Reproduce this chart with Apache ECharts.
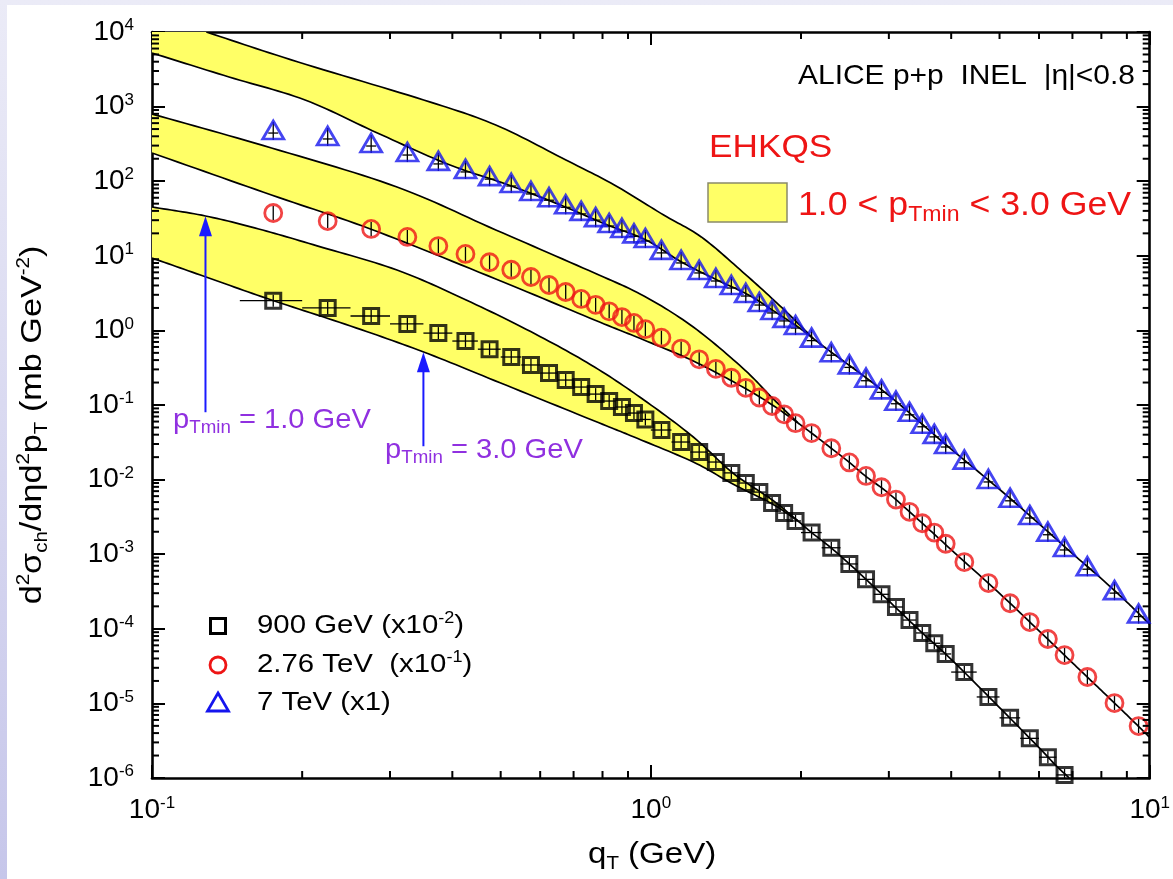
<!DOCTYPE html>
<html>
<head>
<meta charset="utf-8">
<title>EHKQS vs ALICE p+p</title>
<script src="https://cdn.jsdelivr.net/npm/echarts@6.0.0/dist/echarts.min.js"></script>
<style>
html,body{margin:0;padding:0;width:1173px;height:879px;overflow:hidden;background:#fff;}
#chart{width:1173px;height:879px;}
</style>
</head>
<body>
<div id="chart"></div>
<script>
// ---------------- data ----------------
const xTickExponents = [-1, 0, 1];
const yTickExponents = [-6, -5, -4, -3, -2, -1, 0, 1, 2, 3, 4];
const xMinorTicks = [0.2,0.3,0.4,0.5,0.6,0.7,0.8,0.9,2,3,4,5,6,7,8,9];
const yMinorMantissas = [2,3,4,5,6,7,8,9];

// 900 GeV (x10^-2)
const qT900 = [0.175,0.225,0.275,0.325,0.375,0.425,0.475,0.525,0.575,0.625,0.675,0.725,0.775,0.825,0.875,0.925,0.975,
  1.05,1.15,1.25,1.35,1.45,1.55,1.65,1.75,1.85,1.95,2.1,2.3,2.5,2.7,2.9,3.1,3.3,3.5,3.7,3.9,4.25,4.75,5.25,5.75,6.25,6.75];
const halfBin900 = [0.025,0.025,0.025,0.025,0.025,0.025,0.025,0.025,0.025,0.025,0.025,0.025,0.025,0.025,0.025,0.025,0.025,
  0.05,0.05,0.05,0.05,0.05,0.05,0.05,0.05,0.05,0.05,0.1,0.1,0.1,0.1,0.1,0.1,0.1,0.1,0.1,0.1,0.25,0.25,0.25,0.25,0.25,0.25];
const sigma900 = [2.5,2.0,1.56,1.22,0.92,0.72,0.56,0.44,0.344,0.268,0.216,0.174,0.140,0.113,0.094,0.078,0.064,
  0.0462,0.0319,0.0234,0.0172,0.0123,0.0090,0.0068,0.00486,0.00356,0.00279,0.00195,0.00122,7.4e-4,4.6e-4,2.9e-4,
  1.96e-4,1.31e-4,8.8e-5,6.4e-5,4.6e-5,2.63e-5,1.22e-5,6.4e-6,3.4e-6,1.9e-6,1.1e-6];

// 2.76 TeV (x10^-1)
const qT276 = [0.175,0.225,0.275,0.325,0.375,0.425,0.475,0.525,0.575,0.625,0.675,0.725,0.775,0.825,0.875,0.925,0.975,
  1.05,1.15,1.25,1.35,1.45,1.55,1.65,1.75,1.85,1.95,2.1,2.3,2.5,2.7,2.9,3.1,3.3,3.5,3.7,3.9,4.25,4.75,5.25,5.75,6.25,6.75,7.5,8.5,9.5];
const sigma276 = [37.5,29.2,22.9,17.9,13.5,10.6,8.2,6.5,5.2,4.06,3.27,2.64,2.2,1.8,1.51,1.26,1.04,
  0.80,0.57,0.41,0.305,0.232,0.170,0.126,0.097,0.075,0.057,0.042,0.0263,0.0170,0.0112,0.0079,0.0054,0.0037,0.0026,
  0.00195,0.00138,7.85e-4,4.1e-4,2.2e-4,1.23e-4,7.3e-5,4.45e-5,2.26e-5,1.01e-5,4.97e-6];

// 7 TeV (x1)
const qT7 = [0.175,0.225,0.275,0.325,0.375,0.425,0.475,0.525,0.575,0.625,0.675,0.725,0.775,0.825,0.875,0.925,0.975,
  1.05,1.15,1.25,1.35,1.45,1.55,1.65,1.75,1.85,1.95,2.1,2.3,2.5,2.7,2.9,3.1,3.3,3.5,3.7,3.9,4.25,4.75,5.25,5.75,6.25,6.75,7.5,8.5,9.5];
const sigma7 = [485,404,325,246,187,146,117,94.6,74,61,49,40,33,27.5,23.6,20,17.3,
  12.0,8.8,6.46,5.04,4.06,3.17,2.4,1.88,1.47,1.18,0.80,0.51,0.35,0.232,0.162,0.114,0.081,0.056,0.041,0.030,
  0.0185,0.0102,5.7e-3,3.35e-3,2.0e-3,1.25e-3,6.9e-4,3.3e-4,1.6e-4];

// EHKQS bands: upper edge = pTmin 1.0 GeV, lower edge = pTmin 3.0 GeV, then the common curve
const band900Upper = [[0.1,45.1],[0.128,34.2],[0.1636,22.9],[0.2151,13.5],[0.3098,6.45],[0.4264,2.556],[0.5867,0.895],
  [0.771,0.323],[0.9686,0.1167],[1.2164,0.03724],[1.4601,0.01226],[1.7518,0.00533],[1.9728,0.002786]];
const band900Lower = [[0.1,9.34],[0.13,5.04],[0.1736,2.556],[0.25,1.146],[0.3504,0.5134],[0.5,0.197],[0.771,0.061],
  [0.9255,0.0372],[1.2164,0.0172],[1.4601,0.00873],[1.7518,0.00471],[1.9728,0.002786]];
const curve900Tail = [[1.9728,0.002786],[2.1,0.00195],[2.3,0.00121],[2.5,7.4e-4],[2.7,4.6e-4],[3.0,2.36e-4],[3.5,8.8e-5],
  [4.0,3.9e-5],[5.0,8.8e-6],[6.0,2.55e-6],[6.5,1.45e-6],[6.9,1.0e-6]];

const band276Upper = [[0.1,796],[0.1736,279],[0.3098,83.6],[0.4888,22.2],[0.771,5.88],[0.9686,2.89],[1.2164,1.11],
  [1.5281,0.313],[1.7518,0.1241],[1.9728,0.0574]];
const band276Lower = [[0.1,239],[0.1736,65.3],[0.274,22.9],[0.4888,4.89],[0.771,1.379],[0.9686,0.7436],[1.2164,0.389],
  [1.5281,0.1743],[1.7518,0.1],[1.9728,0.0574]];
const curve276Tail = [[1.9728,0.0574],[2.1,0.042],[2.3,0.0263],[2.5,0.0170],[2.7,0.0110],[3.0,0.0065],[3.5,0.0026],
  [4.0,0.00115],[5.0,2.98e-4],[6.0,9.4e-5],[7.0,3.5e-5],[8.0,1.49e-5],[9.0,7.0e-6],[10,3.5e-6]];

const band7Upper = [[0.1285,1e4],[0.1963,3962],[0.3504,1226],[0.4888,567],[0.6757,192.4],[0.8448,88.9],[1.0611,35.2],
  [1.2619,17.9],[1.5281,6.06],[1.8337,2.0],[2.1217,0.767]];
const band7Lower = [[0.1,5230],[0.1427,2494],[0.2027,1226],[0.283,443],[0.391,170],[0.5186,88.9],[0.6663,46.5],
  [0.8182,25.9],[0.9775,16.3],[1.1519,8.26],[1.3574,4.74],[1.5707,2.98],[1.7762,1.764],[1.9728,1.11],[2.1217,0.767]];
const curve7Tail = [[2.1217,0.767],[2.3,0.51],[2.7,0.232],[3.1,0.112],[3.5,0.0552],[4.0,0.0256],[5.0,0.0074],
  [6.0,0.00256],[7.0,1.02e-3],[8.0,4.7e-4],[9.0,2.28e-4],[10,1.15e-4]];
const band7Corner = [0.1, 1e4];

// annotation arrows (x, from, to)
const arrowX = [0.128, 0.35];
const arrowFrom = [0.08, 0.028];
const arrowTo = [34, 0.51];

// ---------------- style ----------------
const FONT = '"Liberation Sans", Arial, Helvetica, sans-serif';
const YELLOW = '#ffff66';
const RED = '#ee1515';
const BLUE = '#1515ee';
const PURPLE = '#9030e0';
const ARROW_BLUE = '#1a1aff';
const MAJOR = 13, MINOR = 7;

function spline(pts, steps) {
  if (pts.length < 3) return pts.slice();
  const out = [];
  const n = pts.length;
  for (let i = 0; i < n - 1; i++) {
    const p1 = pts[i], p2 = pts[i + 1];
    const p0 = i > 0 ? pts[i - 1] : [2 * p1[0] - p2[0], 2 * p1[1] - p2[1]];
    const p3 = i < n - 2 ? pts[i + 2] : [2 * p2[0] - p1[0], 2 * p2[1] - p1[1]];
    for (let s = 0; s < steps; s++) {
      const t = s / steps, t2 = t * t, t3 = t2 * t;
      const f = k => 0.5 * ((2 * p1[k]) + (-p0[k] + p2[k]) * t +
        (2 * p0[k] - 5 * p1[k] + 4 * p2[k] - p3[k]) * t2 +
        (-p0[k] + 3 * p1[k] - 3 * p2[k] + p3[k]) * t3);
      out.push([f(0), f(1)]);
    }
  }
  out.push(pts[n - 1]);
  return out;
}

function bandSeries(name, upper, lower, tail, corner) {
  const STEPS = 14;
  return {
    type: 'custom', name: name, coordinateSystem: 'cartesian2d', clip: true, silent: true, z: 2,
    data: [[1, 1]],
    renderItem: function (params, api) {
      const U = spline(upper.map(p => api.coord(p)), STEPS);
      const Lr = spline(lower.map(p => api.coord(p)), STEPS);
      const Tr = spline(tail.map(p => api.coord(p)), STEPS);
      let poly = U.concat(Lr.slice().reverse());
      if (corner) poly = [api.coord(corner)].concat(poly);
      const lineStyle = { stroke: '#000', lineWidth: 1.7, fill: null };
      return {
        type: 'group', children: [
          { type: 'polygon', shape: { points: poly }, style: { fill: YELLOW, stroke: null } },
          { type: 'polyline', shape: { points: U }, style: lineStyle },
          { type: 'polyline', shape: { points: Lr }, style: lineStyle },
          { type: 'polyline', shape: { points: Tr }, style: lineStyle }
        ]
      };
    }
  };
}

function errorSeries(qT, vals, halfBins, up, down, cross) {
  return {
    type: 'custom', coordinateSystem: 'cartesian2d', clip: true, silent: true, z: 4,
    data: qT.map((x, i) => [x, vals[i], halfBins ? halfBins[i] : 0]),
    renderItem: function (params, api) {
      const x = api.value(0), y = api.value(1), hb = api.value(2);
      const c = api.coord([x, y]);
      const st = { stroke: '#000', lineWidth: 1.3 };
      const ch = [{ type: 'line', shape: { x1: c[0], y1: c[1] - up, x2: c[0], y2: c[1] + down }, style: st }];
      if (hb > 0) {
        const a = api.coord([x - hb, y]), b = api.coord([x + hb, y]);
        ch.push({ type: 'line', shape: { x1: a[0], y1: c[1], x2: b[0], y2: c[1] }, style: st });
      } else if (cross) {
        ch.push({ type: 'line', shape: { x1: c[0] - cross, y1: c[1] + 3, x2: c[0] + cross, y2: c[1] + 3 }, style: st });
      }
      return { type: 'group', children: ch };
    }
  };
}

const minorYValues = [];
yTickExponents.slice(0, -1).forEach(e => yMinorMantissas.forEach(m => minorYValues.push(m * Math.pow(10, e))));

function supLabel(v) {
  const e = Math.round(Math.log10(v));
  return '{b|10}{s|' + e + '}';
}
const labelRich = {
  b: { fontSize: 28, fontFamily: FONT, color: '#000', lineHeight: 30, verticalAlign: 'middle' },
  s: { fontSize: 17, fontFamily: FONT, color: '#000', lineHeight: 14, verticalAlign: 'top' }
};

const axisCommon = {
  type: 'log', logBase: 10, interval: 1,
  axisLine: { show: true, lineStyle: { color: '#000', width: 2.6 } },
  axisTick: { show: true, inside: true, length: MAJOR, lineStyle: { color: '#000', width: 2 } },
  splitLine: { show: false },
  minorTick: { show: false },
  minorSplitLine: { show: false }
};

const chart = echarts.init(document.getElementById('chart'), null, { renderer: 'canvas' });

const option = {
  animation: false,
  backgroundColor: 'transparent',
  grid: { left: 152, right: 11, top: 32, bottom: 101, containLabel: false },
  xAxis: [
    Object.assign({}, axisCommon, {
      min: 0.1, max: 10, position: 'bottom',
      axisLabel: {
        show: true, margin: 17, showMinLabel: true, showMaxLabel: true,
        formatter: v => xTickExponents.indexOf(Math.round(Math.log10(v))) >= 0 ? supLabel(v) : '',
        rich: labelRich
      }
    }),
    Object.assign({}, axisCommon, {
      min: 0.1, max: 10, position: 'top', axisLabel: { show: false }
    })
  ],
  yAxis: [
    Object.assign({}, axisCommon, {
      min: 1e-6, max: 1e4, position: 'left',
      axisLabel: {
        show: true, margin: 18, showMinLabel: true, showMaxLabel: true,
        formatter: v => yTickExponents.indexOf(Math.round(Math.log10(v))) >= 0 ? supLabel(v) : '',
        rich: labelRich
      }
    }),
    Object.assign({}, axisCommon, {
      min: 1e-6, max: 1e4, position: 'right', axisLabel: { show: false }
    })
  ],
  series: [
    bandSeries('EHKQS 7 TeV', band7Upper, band7Lower, curve7Tail, band7Corner),
    bandSeries('EHKQS 2.76 TeV', band276Upper, band276Lower, curve276Tail, null),
    bandSeries('EHKQS 900 GeV', band900Upper, band900Lower, curve900Tail, null),
    errorSeries(qT900, sigma900, halfBin900, 6, 6, 0),
    errorSeries(qT276, sigma276, null, 7, 7, 0),
    errorSeries(qT7, sigma7, null, 8, 10, 5),
    {
      type: 'scatter', name: '900 GeV (x10^-2)', z: 5,
      data: qT900.map((x, i) => [x, sigma900[i]]),
      symbol: 'rect', symbolSize: 15,
      itemStyle: { color: 'rgba(0,0,0,0)', borderColor: '#000', borderWidth: 3 }
    },
    {
      type: 'scatter', name: '2.76 TeV (x10^-1)', z: 5,
      data: qT276.map((x, i) => [x, sigma276[i]]),
      symbol: 'circle', symbolSize: 17,
      itemStyle: { color: 'rgba(0,0,0,0)', borderColor: RED, borderWidth: 2.8 }
    },
    {
      type: 'scatter', name: '7 TeV (x1)', z: 5,
      data: qT7.map((x, i) => [x, sigma7[i]]),
      symbol: 'triangle', symbolSize: [21, 18],
      itemStyle: { color: 'rgba(0,0,0,0)', borderColor: BLUE, borderWidth: 2.8 }
    },
    {
      // annotation arrows
      type: 'custom', coordinateSystem: 'cartesian2d', silent: true, z: 6, clip: true,
      data: arrowX.map((x, i) => [x, arrowFrom[i], arrowTo[i]]),
      renderItem: function (params, api) {
        const a = api.coord([api.value(0), api.value(1)]);
        const b = api.coord([api.value(0), api.value(2)]);
        const headL = 20, headW = 6.5;
        return {
          type: 'group', children: [
            { type: 'line', shape: { x1: a[0], y1: a[1], x2: b[0], y2: b[1] + headL - 2 }, style: { stroke: ARROW_BLUE, lineWidth: 2 } },
            { type: 'polygon', shape: { points: [[b[0], b[1]], [b[0] - headW, b[1] + headL], [b[0] + headW, b[1] + headL]] }, style: { fill: ARROW_BLUE } }
          ]
        };
      }
    },
    {
      // minor ticks on bottom/top axes
      type: 'custom', coordinateSystem: 'cartesian2d', silent: true, z: 7, clip: false,
      data: xMinorTicks.map(v => [v, 1]),
      renderItem: function (params, api) {
        const cs = params.coordSys;
        const px = api.coord([api.value(0), 1])[0];
        const st = { stroke: '#000', lineWidth: 2 };
        return {
          type: 'group', children: [
            { type: 'line', shape: { x1: px, y1: cs.y + cs.height, x2: px, y2: cs.y + cs.height - MINOR }, style: st },
            { type: 'line', shape: { x1: px, y1: cs.y, x2: px, y2: cs.y + MINOR }, style: st }
          ]
        };
      }
    },
    {
      // minor ticks on left/right axes
      type: 'custom', coordinateSystem: 'cartesian2d', silent: true, z: 7, clip: false,
      data: minorYValues.map(v => [1, v]),
      renderItem: function (params, api) {
        const cs = params.coordSys;
        const py = api.coord([1, api.value(1)])[1];
        const st = { stroke: '#000', lineWidth: 2 };
        return {
          type: 'group', children: [
            { type: 'line', shape: { x1: cs.x, y1: py, x2: cs.x + MINOR, y2: py }, style: st },
            { type: 'line', shape: { x1: cs.x + cs.width, y1: py, x2: cs.x + cs.width - MINOR, y2: py }, style: st }
          ]
        };
      }
    }
  ],
  graphic: [
    { type: 'rect', z: -100, silent: true, shape: { x: 0, y: 0, width: 1173, height: 879 },
      style: { fill: new echarts.graphic.LinearGradient(0, 0, 0, 1, [{ offset: 0, color: '#ebebf7' }, { offset: 1, color: '#c6c6ea' }]) } },
    { type: 'rect', z: -99, silent: true, shape: { x: 7, y: 5, width: 1166, height: 874 }, style: { fill: '#ffffff' } },

    { type: 'text', z: 50, x: 798, y: 76, scaleX: 1.07,
      style: { text: 'ALICE p+p  INEL  |\u03b7|<0.8', fontSize: 28, fontFamily: FONT, fill: '#000', align: 'left', verticalAlign: 'middle' } },
    { type: 'text', z: 50, x: 709, y: 148, scaleX: 1.1,
      style: { text: 'EHKQS', fontSize: 32, fontFamily: FONT, fill: RED, align: 'left', verticalAlign: 'middle' } },
    { type: 'rect', z: 50, shape: { x: 708, y: 183, width: 79, height: 39 }, style: { fill: YELLOW, stroke: '#8a8a6a', lineWidth: 1.5 } },
    { type: 'text', z: 50, x: 798, y: 206, scaleX: 1.05,
      style: { text: '1.0 < p{sub|Tmin} < 3.0 GeV', fontSize: 34, fontFamily: FONT, fill: RED, align: 'left', verticalAlign: 'middle', lineHeight: 40,
        rich: { sub: { fontSize: 22, fontFamily: FONT, fill: RED, verticalAlign: 'bottom', lineHeight: 18 } } } },

    { type: 'text', z: 50, x: 173, y: 420, scaleX: 1.04,
      style: { text: 'p{sub|Tmin} = 1.0 GeV', fontSize: 28, fontFamily: FONT, fill: PURPLE, align: 'left', verticalAlign: 'middle', lineHeight: 34,
        rich: { sub: { fontSize: 18, fontFamily: FONT, fill: PURPLE, verticalAlign: 'bottom', lineHeight: 14 } } } },
    { type: 'text', z: 50, x: 385, y: 450, scaleX: 1.04,
      style: { text: 'p{sub|Tmin} = 3.0 GeV', fontSize: 28, fontFamily: FONT, fill: PURPLE, align: 'left', verticalAlign: 'middle', lineHeight: 34,
        rich: { sub: { fontSize: 18, fontFamily: FONT, fill: PURPLE, verticalAlign: 'bottom', lineHeight: 14 } } } },

    // legend
    { type: 'rect', z: 50, shape: { x: 210.5, y: 618.5, width: 15, height: 15 }, style: { fill: null, stroke: '#000', lineWidth: 3 } },
    { type: 'circle', z: 50, shape: { cx: 218, cy: 665, r: 8 }, style: { fill: null, stroke: RED, lineWidth: 2.8 } },
    { type: 'polygon', z: 50, shape: { points: [[218, 693], [228.5, 711], [207.5, 711]] }, style: { fill: null, stroke: BLUE, lineWidth: 2.8 } },
    { type: 'text', z: 50, x: 257, y: 626, scaleX: 1.13,
      style: { text: '900 GeV (x10{sup|-2})', fontSize: 26, fontFamily: FONT, fill: '#000', align: 'left', verticalAlign: 'middle', lineHeight: 30,
        rich: { sup: { fontSize: 16, fontFamily: FONT, fill: '#000', verticalAlign: 'top', lineHeight: 14 } } } },
    { type: 'text', z: 50, x: 257, y: 665, scaleX: 1.13,
      style: { text: '2.76 TeV  (x10{sup|-1})', fontSize: 26, fontFamily: FONT, fill: '#000', align: 'left', verticalAlign: 'middle', lineHeight: 30,
        rich: { sup: { fontSize: 16, fontFamily: FONT, fill: '#000', verticalAlign: 'top', lineHeight: 14 } } } },
    { type: 'text', z: 50, x: 257, y: 703, scaleX: 1.13,
      style: { text: '7 TeV (x1)', fontSize: 26, fontFamily: FONT, fill: '#000', align: 'left', verticalAlign: 'middle', lineHeight: 30 } },

    // axis titles
    { type: 'text', z: 50, x: 33, y: 425, rotation: Math.PI / 2, scaleX: 1.14,
      style: { text: 'd{sup|2}\u03c3{sub|ch}/d\u03b7d{sup|2}p{sub|T} (mb GeV{sup|-2})', fontSize: 30, fontFamily: FONT, fill: '#000',
        align: 'center', verticalAlign: 'middle', lineHeight: 36,
        rich: {
          sup: { fontSize: 18, fontFamily: FONT, fill: '#000', verticalAlign: 'top', lineHeight: 16 },
          sub: { fontSize: 18, fontFamily: FONT, fill: '#000', verticalAlign: 'bottom', lineHeight: 16 }
        } } },
    { type: 'text', z: 50, x: 588, y: 855, scaleX: 1.14,
      style: { text: 'q{sub|T} (GeV)', fontSize: 29, fontFamily: FONT, fill: '#000', align: 'left', verticalAlign: 'middle', lineHeight: 36,
        rich: { sub: { fontSize: 18, fontFamily: FONT, fill: '#000', verticalAlign: 'bottom', lineHeight: 16 } } } }
  ]
};

chart.setOption(option);
</script>
</body>
</html>
